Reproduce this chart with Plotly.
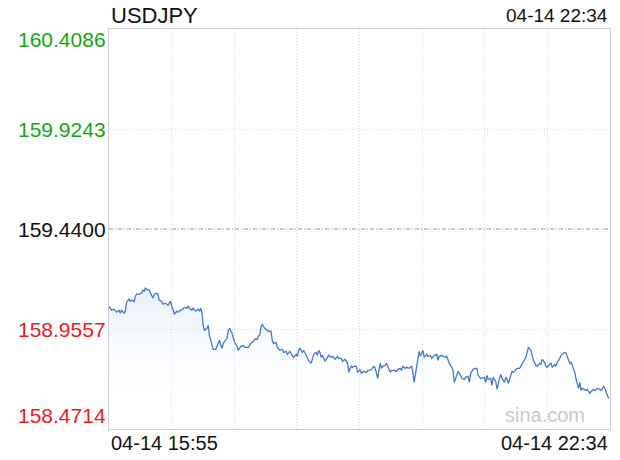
import plotly.graph_objects as go

# ---- data ----
symbol = "USDJPY"
start_label = "04-14 15:55"
end_label = "04-14 22:34"
prev_close = 159.4400
y_ticks = [158.4714, 158.9557, 159.4400, 159.9243, 160.4086]
y_tick_text = ["158.4714", "158.9557", "159.4400", "159.9243", "160.4086"]
session_minutes = 399  # 15:55 -> 22:34

minutes = [0, 2, 4, 6, 8, 9, 10, 12, 13, 14, 16, 17, 19, 20, 21, 22, 24, 26, 27, 28,
           29, 31, 32, 34, 35, 36, 38, 39, 40, 42, 43, 45, 47, 48, 49, 50, 51, 52, 54, 55,
           57, 59, 60, 62, 63, 64, 66, 67, 69, 71, 72, 73, 74, 75, 76, 78, 79, 80, 82, 83,
           85, 87, 88, 89, 90, 91, 93, 94, 95, 96, 98, 99, 100, 102, 103, 105, 107, 108, 110, 111,
           113, 115, 116, 118, 119, 120, 121, 122, 124, 126, 127, 129, 130, 131, 133, 134, 136, 138, 139, 141,
           142, 144, 146, 147, 149, 150, 151, 152, 154, 155, 157, 158, 159, 161, 162, 163, 165, 166, 167, 168,
           169, 170, 172, 174, 175, 177, 178, 180, 182, 183, 185, 186, 188, 190, 191, 192, 193, 194, 195, 197,
           198, 200, 201, 203, 205, 206, 208, 209, 211, 212, 213, 214, 215, 216, 217, 218, 220, 221, 222, 224,
           225, 227, 229, 230, 232, 233, 234, 236, 237, 239, 241, 242, 243, 244, 245, 246, 247, 248, 249, 250,
           251, 253, 254, 256, 257, 259, 261, 262, 263, 265, 266, 268, 269, 271, 273, 274, 275, 277, 278, 280,
           281, 283, 284, 286, 287, 288, 290, 292, 293, 294, 296, 297, 299, 300, 301, 302, 304, 305, 306, 308,
           309, 311, 312, 313, 315, 316, 317, 318, 320, 321, 322, 324, 325, 327, 328, 329, 331, 332, 333, 334,
           336, 337, 338, 340, 341, 343, 344, 345, 347, 348, 349, 351, 352, 353, 355, 356, 357, 359, 360, 362,
           363, 364, 366, 367, 368, 369, 371, 372, 373, 374, 375, 376, 377, 379, 380, 381, 383, 384, 386, 387,
           389, 391, 392, 394, 395, 396, 398]

prices = [159.0662, 159.0468, 159.0516, 159.0370, 159.0468, 159.0322, 159.0468, 159.0322, 159.0419, 159.0856,
          159.1002, 159.0904, 159.0953, 159.0856, 159.1147, 159.1244, 159.1244, 159.1293, 159.1438, 159.1390,
          159.1536, 159.1438, 159.1438, 159.1147, 159.1050, 159.1244, 159.1293, 159.1244, 159.0953, 159.0904,
          159.0759, 159.0807, 159.0710, 159.0807, 159.0904, 159.0662, 159.0516, 159.0273, 159.0419, 159.0370,
          159.0468, 159.0516, 159.0613, 159.0565, 159.0662, 159.0565, 159.0468, 159.0565, 159.0419, 159.0516,
          159.0419, 159.0565, 159.0370, 158.9739, 158.9497, 158.9594, 158.9739, 158.9254, 158.8768, 158.8574,
          158.8574, 158.8914, 158.9011, 158.8768, 158.8623, 158.8865, 158.9011, 158.9108, 158.9497, 158.9594,
          158.9351, 158.9108, 158.8914, 158.8720, 158.8526, 158.8720, 158.8768, 158.8671, 158.8671, 158.8671,
          158.8865, 158.8962, 158.9060, 158.9060, 158.9205, 158.9254, 158.9642, 158.9788, 158.9594, 158.9497,
          158.9448, 158.9448, 158.9011, 158.8865, 158.8914, 158.8671, 158.8526, 158.8574, 158.8428, 158.8477,
          158.8331, 158.8477, 158.8283, 158.8186, 158.8331, 158.8234, 158.8526, 158.8623, 158.8428, 158.8526,
          158.8283, 158.8137, 158.8040, 158.7894, 158.8137, 158.8331, 158.8428, 158.8283, 158.8526, 158.8428,
          158.8186, 158.8283, 158.7991, 158.8186, 158.8283, 158.8186, 158.8234, 158.8089, 158.8234, 158.8137,
          158.8137, 158.7991, 158.8089, 158.7894, 158.7457, 158.7652, 158.7749, 158.7700, 158.7749, 158.7749,
          158.7457, 158.7603, 158.7409, 158.7506, 158.7457, 158.7555, 158.7555, 158.7603, 158.7749, 158.7652,
          158.7409, 158.7166, 158.7555, 158.7894, 158.7652, 158.7749, 158.7797, 158.7894, 158.7749, 158.7457,
          158.7555, 158.7555, 158.7506, 158.7603, 158.7652, 158.7555, 158.7749, 158.7652, 158.7700, 158.7652,
          158.7749, 158.7457, 158.6972, 158.7360, 158.7797, 158.8283, 158.8477, 158.8234, 158.8428, 158.8526,
          158.8186, 158.8331, 158.8234, 158.8283, 158.8137, 158.8283, 158.8331, 158.8040, 158.8234, 158.8283,
          158.8234, 158.8186, 158.8234, 158.7894, 158.7700, 158.7555, 158.6972, 158.7409, 158.7506, 158.7312,
          158.7166, 158.7118, 158.7215, 158.7263, 158.6972, 158.7409, 158.7603, 158.7652, 158.7652, 158.7312,
          158.7166, 158.7166, 158.7215, 158.6972, 158.7312, 158.7118, 158.7166, 158.6826, 158.7215, 158.7020,
          158.6632, 158.7166, 158.7360, 158.7166, 158.6972, 158.7215, 158.7118, 158.6923, 158.7409, 158.7506,
          158.7457, 158.7603, 158.7652, 158.7652, 158.7749, 158.7894, 158.8089, 158.8186, 158.8428, 158.8671,
          158.8526, 158.8283, 158.8040, 158.7797, 158.7749, 158.7894, 158.7846, 158.8089, 158.7943, 158.7749,
          158.7700, 158.7846, 158.7894, 158.7700, 158.7846, 158.7749, 158.7943, 158.8137, 158.8283, 158.8380,
          158.8428, 158.8380, 158.8040, 158.7894, 158.7943, 158.7797, 158.7457, 158.7118, 158.6826, 158.6681,
          158.6972, 158.6584, 158.6681, 158.6632, 158.6584, 158.6632, 158.6438, 158.6535, 158.6632, 158.6584,
          158.6681, 158.6632, 158.6584, 158.6778, 158.6681, 158.6486, 158.6195]

# ---- styling ----
FONT = "Liberation Sans, Arial, Helvetica, sans-serif"
LINE_COLOR = "#4677cf"
GRID = "#d4d4d4"
BORDER = "#d0d0d0"
GREEN = "#11a811"
RED = "#f01a1a"
DARK = "#111111"

fig = go.Figure()
fig.add_trace(go.Scatter(
    x=minutes, y=prices, mode="lines",
    line=dict(color=LINE_COLOR, width=1.3),
    fill="tozeroy",
    fillgradient=dict(
        type="vertical",
        colorscale=[[0, "rgba(255,255,255,0.0)"], [1, "rgba(214,228,249,0.55)"]],
        start=y_ticks[0], stop=max(prices),
    ),
    hoverinfo="skip",
    showlegend=False,
))

fig.add_shape(type="line", xref="x", yref="y", x0=0, x1=session_minutes,
              y0=prev_close, y1=prev_close,
              line=dict(color="#9a9a9a", width=1, dash="4px,2px,1px,2px"))

label_colors = [RED, RED, DARK, GREEN, GREEN]
anns = []
for i, (v, t, c) in enumerate(zip(y_ticks, y_tick_text, label_colors)):
    ys = 0
    if i == 0:
        ya = "bottom"
    elif i == len(y_ticks) - 1:
        ya = "top"
        ys = 3
    else:
        ya = "middle"
    anns.append(dict(x=0, xref="paper", y=v, yref="y", text=t, showarrow=False,
                     xanchor="right", yanchor=ya, xshift=-1, yshift=ys,
                     font=dict(family=FONT, size=21, color=c)))

anns += [
    dict(x=0, xref="paper", y=1.034, yref="paper", text=symbol, showarrow=False,
         xanchor="left", yanchor="middle", font=dict(family=FONT, size=22, color=DARK)),
    dict(x=1, xref="paper", y=1.034, yref="paper", text=end_label, showarrow=False,
         xanchor="right", yanchor="middle", font=dict(family=FONT, size=19, color=DARK)),
    dict(x=0, xref="paper", y=-0.036, yref="paper", text=start_label, showarrow=False,
         xanchor="left", yanchor="middle", font=dict(family=FONT, size=20, color=DARK)),
    dict(x=1, xref="paper", y=-0.036, yref="paper", text=end_label, showarrow=False,
         xanchor="right", yanchor="middle", font=dict(family=FONT, size=20, color=DARK)),
    dict(x=0.871, xref="paper", y=0.036, yref="paper", text="sina.com", showarrow=False,
         xanchor="center", yanchor="middle", font=dict(family=FONT, size=20, color="#cacaca")),
]

fig.update_layout(
    width=620, height=460,
    margin=dict(l=109, r=10, t=29, b=31),
    paper_bgcolor="white", plot_bgcolor="white",
    showlegend=False,
    annotations=anns,
    xaxis=dict(range=[0, session_minutes], tick0=0, dtick=session_minutes / 8,
               showticklabels=False, ticks="", showgrid=True, gridcolor=GRID,
               griddash="1px,2px", gridwidth=1, zeroline=False,
               showline=True, mirror=True, linecolor=BORDER, linewidth=1),
    yaxis=dict(range=[y_ticks[0], y_ticks[-1]], tickvals=y_ticks,
               showticklabels=False, ticks="", showgrid=True, gridcolor=GRID,
               griddash="1px,2px", gridwidth=1, zeroline=False,
               showline=True, mirror=True, linecolor=BORDER, linewidth=1),
)

fig.write_html("out.html", config={"displayModeBar": False},
               post_script="document.body.style.margin='0';")
